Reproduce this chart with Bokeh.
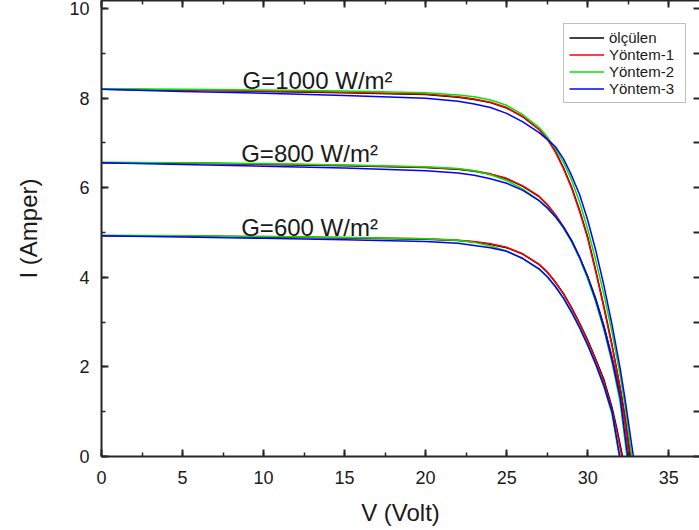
from bokeh.plotting import figure
from bokeh.models import Range1d, LinearAxis, SingleIntervalTicker, Legend, LegendItem, CustomJSTickFormatter
from bokeh.core.properties import value
from bokeh.embed import file_html
from bokeh.resources import INLINE

# ---------------- data ----------------
V_grid = [0, 5, 10, 15, 20, 22, 23, 24, 25, 26, 27, 27.5, 28, 28.5, 29, 29.5, 30, 30.5, 31, 31.5]

# G = 1000 W/m2
I_olc_1000 = [8.20, 8.18, 8.15, 8.12, 8.08, 8.02, 7.97, 7.90, 7.78, 7.58, 7.30, 7.10, 6.82, 6.45, 6.02, 5.50, 4.90, 4.15, 3.35, 2.50]
Vt_olc_1000, It_olc_1000 = [32, 32.3, 32.65], [1.55, 0.90, 0.0]
I_y1_1000 = [8.20, 8.18, 8.16, 8.13, 8.09, 8.03, 7.98, 7.91, 7.79, 7.59, 7.30, 7.09, 6.80, 6.43, 6.00, 5.47, 4.87, 4.12, 3.32, 2.47]
Vt_y1_1000, It_y1_1000 = [32, 32.3, 32.62], [1.52, 0.86, 0.0]
I_y2_1000 = [8.21, 8.20, 8.18, 8.16, 8.12, 8.07, 8.03, 7.96, 7.84, 7.63, 7.35, 7.14, 6.88, 6.57, 6.18, 5.68, 5.08, 4.38, 3.62, 2.78]
Vt_y2_1000, It_y2_1000 = [32, 32.3, 32.72], [1.82, 1.15, 0.0]
I_y3_1000 = [8.20, 8.15, 8.11, 8.06, 8.00, 7.93, 7.87, 7.79, 7.66, 7.47, 7.23, 7.08, 6.92, 6.65, 6.28, 5.85, 5.28, 4.60, 3.82, 2.95]
Vt_y3_1000, It_y3_1000 = [32, 32.3, 32.82], [1.98, 1.30, 0.0]

# G = 800 W/m2
I_olc_800 = [6.56, 6.55, 6.52, 6.49, 6.45, 6.41, 6.37, 6.30, 6.20, 6.03, 5.80, 5.62, 5.40, 5.13, 4.83, 4.45, 4.02, 3.52, 2.92, 2.22]
Vt_olc_800, It_olc_800 = [32, 32.3, 32.57], [1.42, 0.78, 0.0]
I_y1_800 = [6.56, 6.55, 6.53, 6.50, 6.46, 6.42, 6.38, 6.31, 6.21, 6.04, 5.81, 5.63, 5.40, 5.13, 4.82, 4.44, 4.00, 3.50, 2.90, 2.20]
Vt_y1_800, It_y1_800 = [32, 32.3, 32.55], [1.40, 0.75, 0.0]
I_y2_800 = [6.57, 6.56, 6.54, 6.51, 6.47, 6.43, 6.38, 6.29, 6.16, 5.97, 5.72, 5.56, 5.35, 5.10, 4.80, 4.42, 3.97, 3.45, 2.83, 2.10]
Vt_y2_800, It_y2_800 = [32, 32.42], [1.22, 0.0]
I_y3_800 = [6.56, 6.52, 6.48, 6.44, 6.38, 6.33, 6.28, 6.20, 6.10, 5.94, 5.71, 5.55, 5.36, 5.12, 4.82, 4.45, 4.01, 3.49, 2.88, 2.16]
Vt_y3_800, It_y3_800 = [32, 32.47], [1.32, 0.0]

# G = 600 W/m2
I_olc_600 = [4.93, 4.92, 4.90, 4.88, 4.85, 4.82, 4.79, 4.74, 4.66, 4.52, 4.29, 4.12, 3.90, 3.64, 3.33, 2.98, 2.60, 2.17, 1.72, 1.10]
Vt_olc_600, It_olc_600 = [31.8, 32.15], [0.62, 0.0]
I_y1_600 = [4.93, 4.92, 4.91, 4.89, 4.86, 4.83, 4.80, 4.75, 4.67, 4.52, 4.29, 4.12, 3.89, 3.63, 3.31, 2.96, 2.57, 2.14, 1.67, 1.05]
Vt_y1_600, It_y1_600 = [31.8, 32.1], [0.56, 0.0]
I_y2_600 = [4.94, 4.93, 4.91, 4.89, 4.86, 4.83, 4.78, 4.70, 4.59, 4.42, 4.18, 4.01, 3.79, 3.53, 3.22, 2.87, 2.48, 2.05, 1.56, 0.95]
Vt_y2_600, It_y2_600 = [31.95], [0.0]
I_y3_600 = [4.93, 4.90, 4.87, 4.84, 4.80, 4.76, 4.71, 4.66, 4.58, 4.42, 4.19, 4.02, 3.80, 3.54, 3.23, 2.88, 2.49, 2.06, 1.58, 1.00]
Vt_y3_600, It_y3_600 = [31.98], [0.0]

series_names = ["ölçülen", "Yöntem-1", "Yöntem-2", "Yöntem-3"]
series_colors = ["#000000", "#ff0000", "#00e600", "#0000ff"]

label_texts = ["G=1000 W/m²", "G=800 W/m²", "G=600 W/m²"]
label_V = [8.7, 8.62, 8.62]
label_I = [8.40, 6.77, 5.11]

x_ticks_interval = 5
y_ticks_interval = 2

# ---------------- figure ----------------
FONT = "Liberation Sans"
p = figure(width=699, height=530, x_range=Range1d(0, 36.9), y_range=Range1d(0, 10.18),
           output_backend="svg", toolbar_location=None,
           min_border_left=101, min_border_right=0, min_border_top=0, min_border_bottom=74)
p.outline_line_color = None
p.xgrid.grid_line_color = None
p.ygrid.grid_line_color = None
p.background_fill_color = "white"

groups = [
    [(I_olc_1000, Vt_olc_1000, It_olc_1000), (I_y1_1000, Vt_y1_1000, It_y1_1000),
     (I_y2_1000, Vt_y2_1000, It_y2_1000), (I_y3_1000, Vt_y3_1000, It_y3_1000)],
    [(I_olc_800, Vt_olc_800, It_olc_800), (I_y1_800, Vt_y1_800, It_y1_800),
     (I_y2_800, Vt_y2_800, It_y2_800), (I_y3_800, Vt_y3_800, It_y3_800)],
    [(I_olc_600, Vt_olc_600, It_olc_600), (I_y1_600, Vt_y1_600, It_y1_600),
     (I_y2_600, Vt_y2_600, It_y2_600), (I_y3_600, Vt_y3_600, It_y3_600)],
]

legend_renderers = []
for gi, grp in enumerate(groups):
    for si, (Ig, Vt, It) in enumerate(grp):
        r = p.line(V_grid + Vt, Ig + It, line_color=series_colors[si], line_width=1.5)
        if gi == 0:
            legend_renderers.append(r)

p.text(x=label_V, y=label_I, text=label_texts, text_font=value(FONT),
       text_font_size=value("24px"), text_baseline="alphabetic", text_align="left",
       text_color="#1a1a1a")

def style_axis(ax, interval, labels=True):
    ax.ticker = SingleIntervalTicker(interval=interval, num_minor_ticks=2)
    ax.axis_line_width = 2
    ax.axis_line_color = "#262626"
    ax.major_tick_line_color = "#262626"
    ax.minor_tick_line_color = "#262626"
    ax.major_tick_line_width = 2
    ax.minor_tick_line_width = 1.5
    ax.major_tick_in = 7
    ax.major_tick_out = 0
    ax.minor_tick_in = 4
    ax.minor_tick_out = 0
    ax.major_label_text_font = FONT
    ax.axis_label_text_font = FONT
    ax.axis_label_text_font_style = "normal"
    ax.major_label_text_color = "#1a1a1a"
    ax.axis_label_text_color = "#1a1a1a"
    ax.major_label_text_font_size = "18px"
    ax.axis_label_text_font_size = "24px"
    if not labels:
        ax.formatter = CustomJSTickFormatter(code="return '';")
        ax.major_label_standoff = 0
        ax.axis_label = None

xa = p.xaxis[0]
style_axis(xa, x_ticks_interval)
xa.axis_label = "V (Volt)"
xa.major_label_standoff = 14
xa.axis_label_standoff = 12

ya = p.yaxis[0]
style_axis(ya, y_ticks_interval)
ya.axis_label = "I (Amper)"
ya.major_label_standoff = 12
ya.axis_label_standoff = 24

top = LinearAxis()
style_axis(top, x_ticks_interval, labels=False)
p.add_layout(top, "above")

right = LinearAxis()
style_axis(right, 1, labels=False)
right.ticker = SingleIntervalTicker(interval=1, num_minor_ticks=0)
right.axis_line_color = None
right.major_tick_in = 6
p.add_layout(right, "right")

legend = Legend(items=[LegendItem(label=n, renderers=[r]) for n, r in zip(series_names, legend_renderers)],
                location=(462, 353))
legend.border_line_color = "#7f7f7f"
legend.border_line_width = 1.5
legend.background_fill_color = "white"
legend.background_fill_alpha = 1
legend.label_text_font = FONT
legend.label_text_font_size = "15px"
legend.label_text_color = "#1a1a1a"
legend.glyph_width = 35
legend.glyph_height = 17
legend.label_height = 17
legend.label_width = 71
legend.spacing = 0
legend.padding = 5
legend.label_standoff = 5
legend.margin = 0
p.add_layout(legend, "center")

open("out.html", "w").write(file_html(p, INLINE))
